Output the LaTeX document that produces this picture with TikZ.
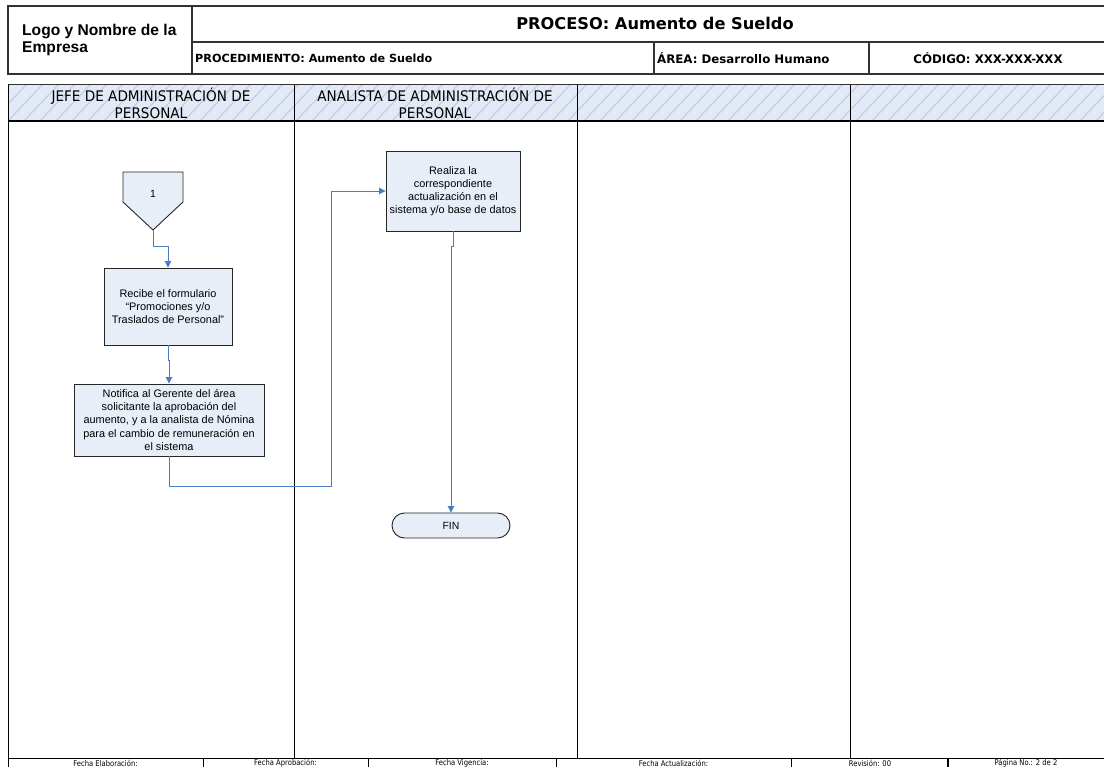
\documentclass[tikz,border=0pt]{standalone}
\usepackage{fontspec}
\setmainfont{Liberation Sans}
\newfontfamily\hdrfont{DejaVu Sans}
\newfontfamily\narrowfont[FakeStretch=0.93]{DejaVu Sans}
\newfontfamily\footfont[FakeStretch=0.86]{DejaVu Sans}
\usetikzlibrary{arrows.meta}
\definecolor{boxfill}{HTML}{E8EEF8}
\definecolor{lanefill}{HTML}{E3EAF6}
\definecolor{hatchcol}{HTML}{B8CBE7}
\definecolor{flowcol}{HTML}{4A7EC4}
\definecolor{framecol}{HTML}{333333}
\tikzset{
  x=1pt, y=-1pt,
  frame/.style={draw=framecol, line width=1.2pt},
  thin frame/.style={draw=black, line width=0.9pt},
  stepbox/.style={draw=black!85, fill=boxfill, line width=0.9pt, align=center,
    font=\fontsize{10.9}{13.2}\selectfont, inner sep=1pt},
  endbox/.style={draw=black!85, fill=boxfill, line width=0.9pt,
    rounded corners=12.5pt, font=\fontsize{10.4}{12}\selectfont},
  flow/.style={draw=flowcol, line width=0.9pt,
    -{Triangle[width=6.5pt,length=6.5pt]}},
  lanetext/.style={font=\narrowfont\fontsize{14.6}{16.8}\selectfont, align=center},
  foottext/.style={font=\footfont\fontsize{7.9}{8}\selectfont},
  cellbold/.style={font=\hdrfont\bfseries\fontsize{#1}{13}\selectfont},
}
\begin{document}
\begin{tikzpicture}
\useasboundingbox (0,0) rectangle (1104,767);
\fill[white] (0,0) rectangle (1104,767);

% ---------- title block ----------
\draw[frame] (8,6) rectangle (1106,74);
\draw[frame] (192,6) -- (192,74);
\draw[frame] (192,42) -- (1106,42);
\draw[frame] (654,42) -- (654,74);
\draw[frame] (869,42) -- (869,74);
\node[anchor=north west, align=left, inner sep=0pt,
  font=\bfseries\fontsize{15.6}{16.8}\selectfont] (logo) at (22,24) {Logo y Nombre de la\\Empresa};
\node[font=\hdrfont\bfseries\fontsize{16.2}{18}\selectfont] (proc) at (655,23) {PROCESO: Aumento de Sueldo};
\node[anchor=west, inner sep=0pt, cellbold=11.2] (pdto) at (195,58) {PROCEDIMIENTO: Aumento de Sueldo};
\node[anchor=west, inner sep=0pt, cellbold=11.8] (area) at (657,58) {ÁREA: Desarrollo Humano};
\node[cellbold=11.8] (codigo) at (988,58) {CÓDIGO: XXX-XXX-XXX};

% ---------- lane headers with hatching ----------
\begin{scope}
  \clip (8,85) rectangle (1104,121);
  \fill[lanefill] (8,85) rectangle (1104,121);
  \foreach \i in {-40,-24,...,1150}
    \draw[hatchcol, line width=1pt] (\i,121) -- (\i+34,85);
\end{scope}
\draw[draw=framecol, line width=1pt] (8,85) -- (1106,85);
\draw[thin frame, line width=1.3pt] (8,121) -- (1106,121);

% lane borders
\draw[thin frame] (8,85) -- (8,767);
\draw[thin frame] (294,85) -- (294,758);
\draw[thin frame] (577,85) -- (577,758);
\draw[thin frame] (850,85) -- (850,758);

\node[lanetext] (lane1) at (151,103) {JEFE DE ADMINISTRACIÓN DE\\PERSONAL};
\node[lanetext] (lane2) at (435,103) {ANALISTA DE ADMINISTRACIÓN DE\\PERSONAL};

% ---------- footer ----------
\draw[thin frame] (8,758) -- (1106,758);
\foreach \xx in {203,368,556,791}
  \draw[thin frame] (\xx,758) -- (\xx,767);
\draw[black, line width=1.8pt] (948,758) -- (948,767);
\node[foottext] (f1) at (105.5,763) {Fecha Elaboración:};
\node[foottext] (f2) at (285.5,763) {Fecha Aprobación:};
\node[foottext] (f3) at (462,763) {Fecha Vigencia:};
\node[foottext] (f4) at (673.5,763) {Fecha Actualización:};
\node[foottext] (f5) at (870,763.3) {Revisión: 00};
\node[foottext] (f6) at (1026,763) {Página No.: 2 de 2};

% ---------- flow ----------
% off-page connector
\draw[draw=black!85, fill=boxfill, line width=0.9pt]
  (123,172) -- (183,172) -- (183,202) -- (153,230) -- (123,202) -- cycle;
\node[font=\fontsize{10.4}{12}\selectfont] (c1) at (153,194) {1};
\coordinate (c1tip) at (153,230);

\node[stepbox, minimum width=128pt, minimum height=77pt] (b1) at (168,306.5)
  {Recibe el formulario\\``Promociones y/o\\Traslados de Personal''};
\node[stepbox, minimum width=190pt, minimum height=72pt] (b2) at (169,420)
  {Notifica al Gerente del área\\solicitante la aprobación del\\aumento, y a la analista de Nómina\\para el cambio de remuneración en\\el sistema};
\node[stepbox, minimum width=134pt, minimum height=80pt] (b3) at (453,191)
  {Realiza la\\correspondiente\\actualización en el\\sistema y/o base de datos};
\node[endbox, minimum width=118pt, minimum height=25pt] (fin) at (451,525.5) {FIN};

\coordinate (jog) at (331,486);

\draw[flow] (c1tip) -- ++(0,16) -| (b1.north);
\draw[flow] (b1.south) -- ++(0,15) -| (b2.north);
\draw[flow] (b2.south) |- (jog) |- (b3.west);
\draw[flow] (b3.south) -- ++(0,15) -| (fin.north);
\end{tikzpicture}
\end{document}
